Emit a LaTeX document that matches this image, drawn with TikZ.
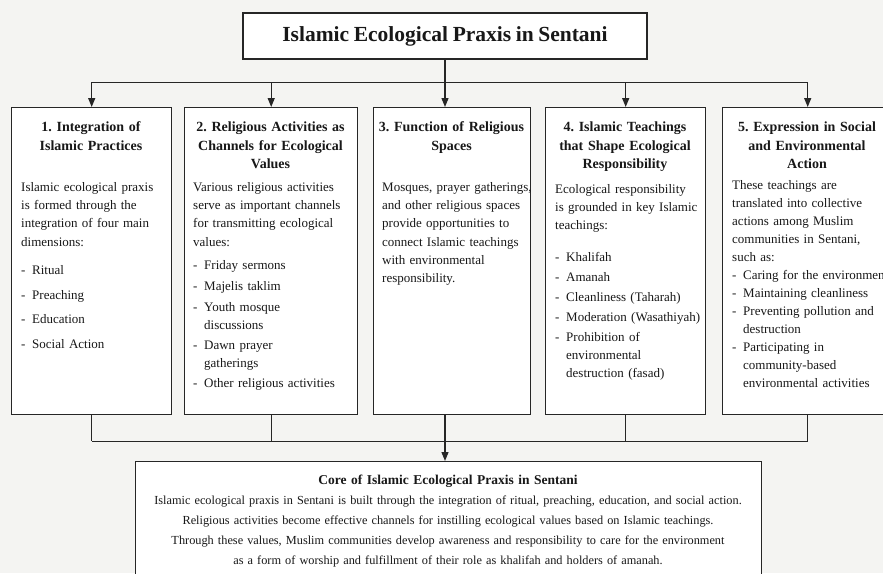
\documentclass[tikz,border=0pt]{standalone}
\usepackage{fontspec}
\setmainfont{Liberation Serif}[WordSpace=0.85]
\usetikzlibrary{arrows.meta}

\definecolor{pagebg}{HTML}{F4F4F2}
\definecolor{ink}{HTML}{181818}
\definecolor{frame}{HTML}{262626}

\tikzset{
  panel/.style={draw=frame, line width=1.4pt, fill=white, inner sep=0pt},
  link/.style={draw=frame, line width=1.3pt},
  tip/.style={link, -{Triangle[length=9pt,width=7pt]}},
  head/.style={font=\bfseries\fontsize{14}{18.5}\selectfont, align=center,
    text width=#1, anchor=base, inner sep=0pt, text=ink},
  head/.default=150pt,
  body/.style={font=\fontsize{13}{18.2}\selectfont, align=left,
    text width=170pt, anchor=base west, inner sep=0pt, text=ink},
  bodytight/.style={body, font=\fontsize{13}{18}\selectfont},
  core/.style={align=center, text width=620pt, anchor=base, inner sep=0pt, text=ink},
}
% dash bullet with hanging indent
\newcommand{\dashitem}{\makebox[11pt][l]{-}}
\newcommand{\hang}{\hspace*{11pt}}

\begin{document}
\frenchspacing
\begin{tikzpicture}[x=1pt,y=-1pt]
  \useasboundingbox (0,0) rectangle (883,573);
  \fill[pagebg] (0,0) rectangle (883,573);
  \clip (0,0) rectangle (883,573);

  % title
  \node[panel, minimum width=404pt, minimum height=46pt,
        font=\bfseries\fontsize{21.5}{24}\selectfont, text=ink] (title) at (445,36)
        {Islamic Ecological Praxis in Sentani};

  % five columns
  \node[panel, anchor=north west, minimum width=160pt, minimum height=307pt] (b1) at (11,107) {};
  \node[panel, anchor=north west, minimum width=173pt, minimum height=307pt] (b2) at (184,107) {};
  \node[panel, anchor=north west, minimum width=157pt, minimum height=307pt] (b3) at (373,107) {};
  \node[panel, anchor=north west, minimum width=160pt, minimum height=307pt] (b4) at (545,107) {};
  \node[panel, anchor=north west, minimum width=170pt, minimum height=307pt] (b5) at (722,107) {};

  % summary box
  \node[panel, anchor=north west, minimum width=626pt, minimum height=140pt] (core) at (135,461) {};

  % top distribution
  \draw[link] (title.south) -- ++(0,23) coordinate (busT);
  \draw[tip] (busT) -| (b1.north);
  \draw[tip] (busT) -| (b2.north);
  \draw[tip] (busT) -- (busT |- b3.north);
  \draw[tip] (busT) -| (b4.north);
  \draw[tip] (busT) -| (b5.north);

  % bottom collection
  \draw[link] (b1.south) -- ++(0,26) coordinate (c1);
  \draw[link] (b2.south) -- (b2.south |- c1);
  \draw[link] (title.south |- b3.south) -- (title.south |- c1);
  \draw[link] (b4.south) -- (b4.south |- c1);
  \draw[link] (b5.south) -- (b5.south |- c1) coordinate (c5);
  \draw[link] (c1) -- (c5);
  \draw[tip] (title.south |- c1) -- (title.south |- core.north);

  % column 1
  \node[head] (h1) at (91,131.5) {1. Integration of\\Islamic Practices};
  \node[body] (t1) at (21,191.5) {Islamic ecological praxis\\is formed through the\\integration of four main\\dimensions:};
  \node[body] (i1a) at (21,274.5) {\dashitem Ritual};
  \node[body] (i1b) at (21,299) {\dashitem Preaching};
  \node[body] (i1c) at (21,323.5) {\dashitem Education};
  \node[body] (i1d) at (21,348.5) {\dashitem Social Action};

  % column 2
  \node[head=165pt] (h2) at (270.5,131.5) {2. Religious Activities as\\Channels for Ecological\\Values};
  \node[body] (t2) at (193,191.5) {Various religious activities\\serve as important channels\\for transmitting ecological\\values:};
  \node[body] (i2a) at (193,269.5) {\dashitem Friday sermons};
  \node[body] (i2b) at (193,290.5) {\dashitem Majelis taklim};
  \node[body] (i2c) at (193,311.5) {\dashitem Youth mosque\\\hang discussions};
  \node[body] (i2d) at (193,349.5) {\dashitem Dawn prayer\\\hang gatherings};
  \node[body] (i2e) at (193,387.5) {\dashitem Other religious activities};

  % column 3
  \node[head] (h3) at (451.5,131.5) {3. Function of Religious\\Spaces};
  \node[body] (t3) at (382,191.5) {Mosques, prayer gatherings,\\and other religious spaces\\provide opportunities to\\connect Islamic teachings\\with environmental\\responsibility.};

  % column 4
  \node[head] (h4) at (625,131.5) {4. Islamic Teachings\\that Shape Ecological\\Responsibility};
  \node[body] (t4) at (555,193.5) {Ecological responsibility\\is grounded in key Islamic\\teachings:};
  \node[body] (i4a) at (555,261.5) {\dashitem Khalifah};
  \node[body] (i4b) at (555,281.5) {\dashitem Amanah};
  \node[body] (i4c) at (555,301.5) {\dashitem Cleanliness (Taharah)};
  \node[body] (i4d) at (555,321.5) {\dashitem Moderation (Wasathiyah)};
  \node[body] (i4e) at (555,341.5) {\dashitem Prohibition of\\\hang environmental\\\hang destruction (fasad)};

  % column 5
  \node[head=165pt] (h5) at (807,131.5) {5. Expression in Social\\and Environmental\\Action};
  \node[bodytight] (t5) at (732,189.5) {These teachings are\\translated into collective\\actions among Muslim\\communities in Sentani,\\such as:};
  \node[bodytight] (i5a) at (732,279.5) {\dashitem Caring for the environment};
  \node[bodytight] (i5b) at (732,297.5) {\dashitem Maintaining cleanliness};
  \node[bodytight] (i5c) at (732,315.5) {\dashitem Preventing pollution and\\\hang destruction};
  \node[bodytight] (i5d) at (732,351.5) {\dashitem Participating in\\\hang community-based\\\hang environmental activities};

  % summary text
  \node[core, font=\bfseries\fontsize{13.5}{20}\selectfont] (coreh) at (448,484)
    {Core of Islamic Ecological Praxis in Sentani};
  \node[core, font=\fontsize{12.3}{20.2}\selectfont] (coret) at (448,504)
    {Islamic ecological praxis in Sentani is built through the integration of ritual, preaching, education, and social action.\\
     Religious activities become effective channels for instilling ecological values based on Islamic teachings.\\
     Through these values, Muslim communities develop awareness and responsibility to care for the environment\\
     as a form of worship and fulfillment of their role as khalifah and holders of amanah.};
\end{tikzpicture}
\end{document}
